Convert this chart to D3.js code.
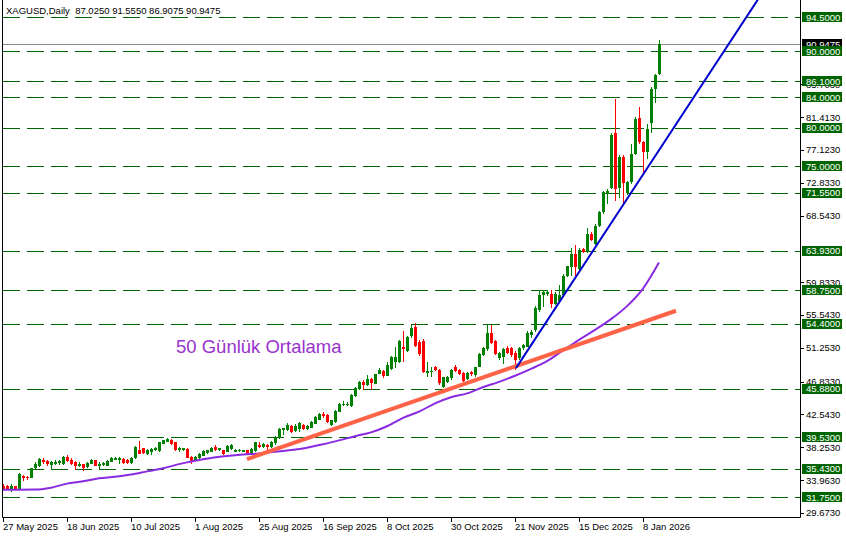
<!DOCTYPE html>
<html lang="en">
<head>
<meta charset="UTF-8" />
<title>XAGUSD Daily</title>
<script src="https://d3js.org/d3.v7.min.js"></script>
<style>
  body { margin: 0; background: #fff; }
  svg text { font-family: "Liberation Sans", Arial, sans-serif; }
</style>
</head>
<body>
<div id="chart"></div>
<script>
const headerText = "XAGUSD,Daily  87.0250 91.5550 86.9075 90.9475";

// daily bars: [open, high, low, close]
const candles = [
  [33.24, 33.4, 32.7, 32.8], [33.15, 33.3, 32.75, 32.8], [32.8, 33.41, 32.45, 33.24], [33.15, 33.25, 32.7, 32.8],
  [32.8, 34.85, 32.75, 34.72], [34.54, 34.6, 33.85, 34.28], [34.41, 34.5, 33.98, 34.24], [34.28, 35.6, 34.2, 35.5],
  [35.5, 36.29, 35.45, 36.03], [35.76, 36.85, 35.7, 36.72], [36.63, 36.81, 36.11, 36.29], [36.46, 36.63, 35.85, 36.03],
  [35.94, 36.4, 35.33, 36.29], [36.11, 36.55, 35.94, 36.37], [36.15, 36.6, 35.98, 36.4], [36.03, 37.1, 35.9, 36.98],
  [36.98, 37.24, 36.29, 36.46], [36.63, 36.81, 35.94, 36.11], [36.37, 36.4, 35.33, 35.85], [35.76, 36.29, 35.68, 36.11],
  [36.03, 36.11, 35.15, 35.59], [35.68, 36.29, 35.5, 36.2], [36.11, 36.72, 36.03, 36.63], [36.55, 36.63, 35.76, 35.85],
  [35.76, 36.29, 35.41, 36.11], [35.94, 36.29, 35.85, 36.2], [35.85, 36.55, 35.76, 36.46], [36.37, 36.98, 36.29, 36.81],
  [36.63, 36.98, 36.55, 36.89], [36.55, 36.98, 36.03, 36.81], [36.72, 36.81, 36.11, 36.2], [36.63, 36.72, 36.11, 36.2],
  [36.2, 36.98, 36.11, 36.89], [36.81, 38.4, 36.72, 38.29], [37.85, 39.07, 37.33, 37.42], [38.12, 38.2, 37.42, 37.51],
  [37.42, 38.03, 37.24, 37.85], [37.59, 38.2, 37.24, 38.03], [37.85, 38.29, 37.76, 38.2], [37.76, 39.0, 37.68, 38.9],
  [38.72, 39.24, 38.63, 39.16], [38.98, 39.42, 38.9, 39.33], [39.16, 39.3, 38.55, 38.64], [38.9, 39.0, 37.76, 37.85],
  [37.85, 38.29, 37.68, 38.12], [37.85, 38.2, 37.76, 38.12], [38.03, 38.12, 36.81, 36.9], [36.98, 37.07, 36.11, 36.46],
  [36.55, 37.07, 36.46, 36.98], [36.81, 37.51, 36.72, 37.42], [37.16, 37.85, 37.07, 37.76], [37.51, 37.94, 37.42, 37.85],
  [37.68, 38.29, 37.59, 38.2], [38.29, 38.55, 37.76, 37.85], [37.85, 38.2, 37.76, 38.12], [37.85, 37.94, 37.24, 37.33],
  [37.68, 38.55, 37.59, 38.46], [38.03, 38.72, 37.94, 38.55], [37.68, 38.03, 37.59, 37.94], [37.77, 38.03, 37.68, 37.94],
  [37.68, 37.94, 37.59, 37.85], [37.85, 37.94, 37.24, 37.33], [37.42, 38.12, 37.33, 38.03], [37.76, 39.0, 37.68, 38.9],
  [38.55, 38.9, 38.2, 38.29], [38.29, 38.81, 38.2, 38.64], [38.55, 38.64, 37.85, 38.29], [38.29, 39.07, 38.2, 38.98],
  [38.81, 39.77, 38.55, 39.59], [39.42, 40.73, 39.33, 40.64], [40.55, 40.81, 39.86, 40.73], [40.55, 41.42, 40.38, 41.16],
  [41.08, 41.16, 40.12, 40.29], [40.38, 41.25, 40.29, 40.99], [40.64, 41.6, 40.29, 41.42], [41.16, 41.34, 40.55, 40.64],
  [40.64, 41.16, 40.55, 41.08], [40.81, 41.65, 40.73, 41.6], [41.34, 42.38, 41.25, 42.21], [41.86, 42.73, 41.77, 42.64],
  [42.64, 42.82, 42.12, 42.3], [42.47, 42.56, 41.42, 41.51], [41.16, 41.86, 41.08, 41.77], [41.51, 43.08, 41.42, 42.99],
  [42.91, 44.04, 42.82, 43.95], [43.78, 44.3, 43.6, 43.95], [43.78, 44.13, 43.6, 43.95], [43.6, 45.17, 43.51, 45.08],
  [44.91, 46.13, 44.82, 46.04], [45.87, 46.92, 45.78, 46.83], [46.83, 47.09, 45.69, 46.39], [46.39, 47.7, 46.3, 47.18],
  [47.18, 47.26, 45.69, 46.65], [46.57, 47.88, 46.48, 47.79], [47.87, 48.57, 47.79, 48.4], [48.22, 48.4, 47.26, 47.61],
  [47.61, 49.44, 47.52, 49.01], [48.44, 50.2, 48.3, 50.1], [49.45, 51.4, 48.57, 50.1], [49.45, 52.3, 49.3, 52.19],
  [51.4, 53.5, 49.36, 51.15], [50.88, 52.8, 50.7, 52.71], [52.8, 54.2, 52.6, 53.8], [54.02, 54.45, 51.4, 51.54],
  [52.06, 52.3, 50.2, 50.45], [52.19, 52.4, 47.9, 48.14], [48.01, 49.45, 47.49, 48.23], [48.1, 48.8, 47.49, 48.23],
  [48.7, 48.9, 48.2, 48.36], [48.36, 48.5, 46.4, 46.61], [46.09, 47.5, 45.95, 47.4], [46.83, 47.6, 46.7, 47.49],
  [47.27, 48.5, 47.1, 48.36], [48.7, 49.0, 48.1, 48.27], [48.36, 48.5, 47.7, 47.83], [48.01, 48.1, 46.8, 46.92],
  [47.14, 48.1, 47.0, 48.01], [48.05, 48.2, 47.6, 47.79], [47.66, 48.8, 47.5, 48.7], [48.79, 50.6, 48.7, 50.45],
  [50.32, 51.3, 50.2, 51.19], [51.06, 54.3, 50.9, 53.24], [53.24, 54.2, 51.8, 51.93], [52.19, 52.3, 50.3, 50.45],
  [49.97, 50.7, 49.6, 50.54], [50.1, 51.2, 49.2, 51.06], [51.28, 51.5, 50.4, 50.62], [51.19, 51.4, 50.1, 50.32],
  [50.62, 50.8, 48.4, 49.66], [49.88, 51.4, 49.7, 51.28], [51.19, 51.8, 51.0, 51.62], [51.41, 53.4, 51.3, 53.24],
  [52.93, 53.6, 52.6, 53.37], [53.6, 56.7, 53.3, 56.5], [56.2, 58.8, 56.0, 58.1], [58.1, 58.83, 56.57, 58.53],
  [58.3, 58.8, 58.0, 58.5], [58.31, 58.83, 56.44, 57.0], [57.0, 58.6, 56.8, 58.31], [57.4, 59.4, 57.3, 58.2],
  [58.1, 60.9, 57.9, 60.7], [60.7, 62.0, 60.5, 61.9], [61.8, 64.3, 60.7, 63.5], [63.5, 64.7, 60.7, 61.8],
  [61.5, 64.3, 61.3, 64.1], [64.2, 64.3, 63.6, 63.76], [63.76, 66.9, 63.6, 66.15], [66.15, 66.4, 65.2, 65.4],
  [64.85, 67.4, 64.7, 67.24], [67.24, 69.1, 67.1, 68.96], [69.0, 71.8, 68.8, 71.6], [71.4, 72.0, 70.1, 71.8],
  [72.1, 79.4, 72.0, 79.1], [79.35, 83.8, 70.5, 71.95], [72.1, 76.5, 70.8, 76.26], [76.26, 76.5, 70.1, 72.82],
  [71.55, 73.1, 71.2, 72.9], [72.9, 77.9, 72.7, 76.6], [76.6, 81.4, 76.4, 81.2], [81.27, 82.7, 77.9, 78.1],
  [78.2, 78.3, 73.8, 76.9], [76.9, 80.5, 76.0, 79.9], [80.7, 85.3, 79.3, 85.1], [85.1, 87.0, 83.3, 86.9],
  [87.025, 91.555, 86.9075, 90.9475]
];

// 50-day moving average read at every 4th bar: [bar, value]
const maPoints = [
  [0, 32.71], [8, 32.72], [12, 32.97], [16, 33.5], [20, 33.8], [24, 34.2], [28, 34.4], [32, 34.7],
  [36, 35.1], [40, 35.5], [44, 36.05], [48, 36.5], [52, 36.85], [56, 37.1], [60, 37.3], [64, 37.45],
  [68, 37.65], [72, 37.9], [76, 38.2], [80, 38.64], [84, 39.15], [88, 39.7], [92, 40.2], [96, 41.0],
  [100, 42.1], [104, 42.9], [108, 44.0], [112, 44.8], [116, 45.3], [120, 46.1], [124, 46.8], [128, 47.6],
  [132, 48.5], [136, 49.5], [140, 50.9], [144, 52.3], [148, 53.6], [152, 55.0], [156, 56.7], [160, 59.0],
  [164, 62.4]
];

const orangeTrend = [[61, 36.7], [168.25, 56.1]];
const blueTrend = [[128.25, 48.6], [190, 97.8]];

const levels = [94.5, 90, 86.1, 84, 80, 75, 71.55, 63.93, 58.75, 54.4, 45.88, 39.53, 35.43, 31.75];
const priceTicks = [29.673, 33.963, 38.253, 42.543, 46.833, 51.253, 55.543, 59.833, 68.543, 72.833, 77.123, 81.413, 85.703];
const lastPrice = 90.9475;

const dateBars = [0, 16, 32, 48, 64, 80, 96, 112, 128, 144, 160];
const dateLabels = ["27 May 2025", "18 Jun 2025", "10 Jul 2025", "1 Aug 2025", "25 Aug 2025", "16 Sep 2025",
  "8 Oct 2025", "30 Oct 2025", "21 Nov 2025", "15 Dec 2025", "8 Jan 2026"];

const maLabel = "50 Günlük Ortalama";

const W = 846, H = 538;
const plot = { left: 2, right: 800, top: 0, bottom: 517 };

const svg = d3.select("#chart").append("svg").attr("width", W).attr("height", H);
svg.append("rect").attr("width", W).attr("height", H).attr("fill", "#fff");

const x = d3.scaleLinear().domain([0, 164]).range([3, 659]);
const y = d3.scaleLinear().domain([31.75, 94.5]).range([497, 17]);
const fmt = d3.format(".4f");
const px = (v) => Math.round(v);

svg.append("clipPath").attr("id", "plotClip")
  .append("rect")
  .attr("x", plot.left).attr("y", plot.top)
  .attr("width", plot.right - plot.left).attr("height", plot.bottom - plot.top);

const g = svg.append("g").attr("clip-path", "url(#plotClip)");

// horizontal levels
g.selectAll("line.level")
  .data(levels)
  .enter()
  .append("line")
  .attr("class", "level")
  .attr("x1", plot.left + 1).attr("x2", plot.right)
  .attr("y1", (d) => px(y(d)) + 0.5).attr("y2", (d) => px(y(d)) + 0.5)
  .attr("stroke", "#006400")
  .attr("stroke-width", 1.2)
  .attr("stroke-dasharray", "17,7");

// current price line
g.append("line")
  .attr("x1", plot.left).attr("x2", plot.right)
  .attr("y1", px(y(lastPrice)) + 0.5).attr("y2", px(y(lastPrice)) + 0.5)
  .attr("stroke", "#8c8c8c");

// candles
const bars = g.selectAll("g.bar")
  .data(candles)
  .enter()
  .append("g")
  .attr("fill", (d) => (d[3] >= d[0] ? "#008000" : "#ff0000"));

bars.append("rect")
  .attr("x", (d, i) => px(x(i)))
  .attr("width", 1)
  .attr("y", (d) => px(y(d[1])))
  .attr("height", (d) => Math.max(1, px(y(d[2])) - px(y(d[1]))));

bars.append("rect")
  .attr("x", (d, i) => px(x(i)) - 1)
  .attr("width", 3)
  .attr("y", (d) => px(y(Math.max(d[0], d[3]))))
  .attr("height", (d) => Math.max(1, px(y(Math.min(d[0], d[3]))) - px(y(Math.max(d[0], d[3])))));

// moving average
g.append("path")
  .datum(maPoints)
  .attr("fill", "none")
  .attr("stroke", "#8a2be2")
  .attr("stroke-width", 2)
  .attr("d", d3.line().x((d) => x(d[0])).y((d) => y(d[1])).curve(d3.curveMonotoneX));

// trend lines
const trend = d3.line().x((d) => x(d[0])).y((d) => y(d[1]));
g.append("path").datum(orangeTrend)
  .attr("fill", "none").attr("stroke", "#ff6347").attr("stroke-width", 4)
  .attr("d", trend);
g.append("path").datum(blueTrend)
  .attr("fill", "none").attr("stroke", "#0000cd").attr("stroke-width", 2)
  .attr("d", trend);

// frame
svg.append("path")
  .attr("d", `M${plot.left + 0.5},${plot.top}V${plot.bottom + 0.5}H${plot.right + 0.5}V${plot.top}`)
  .attr("fill", "none")
  .attr("stroke", "#000");

// header
svg.append("text")
  .attr("x", 6).attr("y", 14)
  .style("font-size", "9.5px")
  .style("white-space", "pre")
  .attr("fill", "#000")
  .text(headerText);

// annotation
svg.append("text")
  .attr("x", 176).attr("y", 353)
  .style("font-size", "18.5px")
  .attr("fill", "#9932cc")
  .text(maLabel);

// price axis
const ticks = svg.append("g");
ticks.selectAll("line")
  .data(priceTicks)
  .enter()
  .append("line")
  .attr("x1", plot.right + 1).attr("x2", plot.right + 4)
  .attr("y1", (d) => px(y(d)) + 0.5).attr("y2", (d) => px(y(d)) + 0.5)
  .attr("stroke", "#000");
ticks.selectAll("text")
  .data(priceTicks)
  .enter()
  .append("text")
  .attr("x", 806)
  .attr("y", (d) => y(d) + 3.5)
  .style("font-size", "9.5px")
  .attr("fill", "#000")
  .text((d) => fmt(d));

// label boxes: current price first, then levels on top
const boxData = [{ v: lastPrice, c: "#000" }].concat(levels.map((v) => ({ v: v, c: "#006400" })));
const boxes = svg.selectAll("g.box")
  .data(boxData)
  .enter()
  .append("g")
  .attr("class", "box");
boxes.append("rect")
  .attr("x", 802).attr("width", 40)
  .attr("y", (d) => px(y(d.v)) - 5).attr("height", 10)
  .attr("fill", (d) => d.c);
boxes.append("text")
  .attr("x", 806)
  .attr("y", (d) => y(d.v) + 3.5)
  .style("font-size", "9.5px")
  .attr("fill", "#fff")
  .text((d) => fmt(d.v));

// date axis
const dates = svg.append("g");
dates.selectAll("line")
  .data(dateBars)
  .enter()
  .append("line")
  .attr("x1", (d) => px(x(d)) + 0.5).attr("x2", (d) => px(x(d)) + 0.5)
  .attr("y1", plot.bottom).attr("y2", plot.bottom + 5)
  .attr("stroke", "#000");
dates.selectAll("text")
  .data(dateBars)
  .enter()
  .append("text")
  .attr("x", (d) => px(x(d)))
  .attr("y", 530)
  .style("font-size", "9.5px")
  .attr("fill", "#000")
  .text((d, i) => dateLabels[i]);
</script>
</body>
</html>
